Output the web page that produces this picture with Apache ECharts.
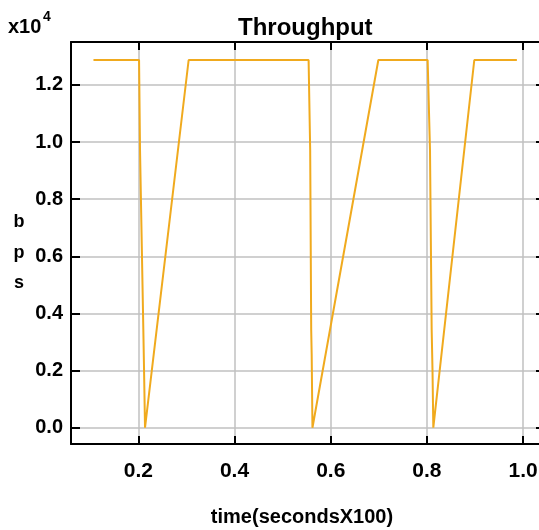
<!DOCTYPE html>
<html>
<head>
<meta charset="utf-8">
<script src="https://cdn.jsdelivr.net/npm/echarts@6/dist/echarts.min.js"></script>
<style>
html,body{margin:0;padding:0;background:#fff;}
#chart{width:539px;height:530px;}
</style>
</head>
<body>
<div id="chart"></div>
<script>
// time (seconds x100)
var times = [0.1067, 0.2015, 0.2035, 0.2104, 0.2118, 0.2139, 0.3046,
             0.554, 0.5573, 0.5594, 0.5604, 0.562, 0.699,
             0.8015, 0.8064, 0.8099, 0.8116, 0.8133, 0.8985, 0.987];
// throughput (bps x10^4)
var values = [1.287, 1.287, 0.972, 0.342, 0.209, 0.0, 1.287,
              1.287, 0.972, 0.342, 0.258, 0.0, 1.287,
              1.287, 0.972, 0.342, 0.202, 0.0, 1.287, 1.287];
var xTicks = [0.2, 0.4, 0.6, 0.8, 1.0];
var yTicks = [0.0, 0.2, 0.4, 0.6, 0.8, 1.0, 1.2];

var FONT = '"Liberation Sans", Arial, sans-serif';
var chart = echarts.init(document.getElementById('chart'), null, {renderer: 'canvas'});

function xAxisCfg(pos, showLabel) {
  return {
    type: 'value', position: pos, min: 0.06, max: 1.0455,
    axisLine: {show: true, onZero: false, lineStyle: {color: '#000', width: 2}},
    axisTick: {show: true, inside: true, length: 8, customValues: xTicks, lineStyle: {color: '#000', width: 2}},
    axisLabel: {show: showLabel, customValues: xTicks, margin: 17, color: '#000',
      fontFamily: FONT, fontWeight: 'bold', fontSize: 21,
      formatter: function (v) { return v.toFixed(1); }},
    splitLine: {show: showLabel, lineStyle: {color: '#c0c0c0', width: 1.5}}
  };
}
function yAxisCfg(pos, showLabel) {
  return {
    type: 'value', position: pos, min: -0.057, max: 1.35,
    axisLine: {show: true, onZero: false, lineStyle: {color: '#000', width: 2}},
    axisTick: {show: true, inside: true, length: 9, customValues: yTicks, lineStyle: {color: '#000', width: 2}},
    axisLabel: {show: showLabel, customValues: yTicks, margin: 8, color: '#000',
      fontFamily: FONT, fontWeight: 'bold', fontSize: 20,
      formatter: function (v) { return v.toFixed(1); }},
    splitLine: {show: showLabel, lineStyle: {color: '#c0c0c0', width: 1.5}}
  };
}

chart.setOption({
  animation: false,
  backgroundColor: '#fff',
  title: {
    text: 'Throughput', left: 233, top: 11,
    textStyle: {fontFamily: FONT, fontWeight: 'bold', fontSize: 24, color: '#000'}
  },
  grid: {left: 71, top: 42, width: 474, height: 402, containLabel: false, outerBoundsMode: 'none'},
  xAxis: [xAxisCfg('bottom', true), xAxisCfg('top', false)],
  yAxis: [yAxisCfg('left', true), yAxisCfg('right', false)],
  graphic: [
    {type: 'text', left: 8, top: 17, style: {text: 'x10', fontFamily: FONT, fontWeight: 'bold', fontSize: 20, fill: '#000'}},
    {type: 'text', left: 43, top: 10, style: {text: '4', fontFamily: FONT, fontWeight: 'bold', fontSize: 14, fill: '#000'}},
    {type: 'text', x: 19, y: 231, style: {text: 'b', fontFamily: FONT, fontWeight: 'bold', fontSize: 18, fill: '#000', textAlign: 'center', textVerticalAlign: 'bottom'}},
    {type: 'text', x: 19, y: 262, style: {text: 'p', fontFamily: FONT, fontWeight: 'bold', fontSize: 18, fill: '#000', textAlign: 'center', textVerticalAlign: 'bottom'}},
    {type: 'text', x: 19, y: 292, style: {text: 's', fontFamily: FONT, fontWeight: 'bold', fontSize: 18, fill: '#000', textAlign: 'center', textVerticalAlign: 'bottom'}},
    {type: 'text', x: 302, y: 517, style: {text: 'time(secondsX100)', fontFamily: FONT, fontWeight: 'bold', fontSize: 20, fill: '#000', textAlign: 'center', textVerticalAlign: 'middle'}}
  ],
  series: [{
    type: 'line', xAxisIndex: 0, yAxisIndex: 0,
    showSymbol: false, symbol: 'none',
    lineStyle: {color: '#F0AA1E', width: 2},
    data: times.map(function (t, i) { return [t, values[i]]; })
  }]
});
</script>
</body>
</html>
